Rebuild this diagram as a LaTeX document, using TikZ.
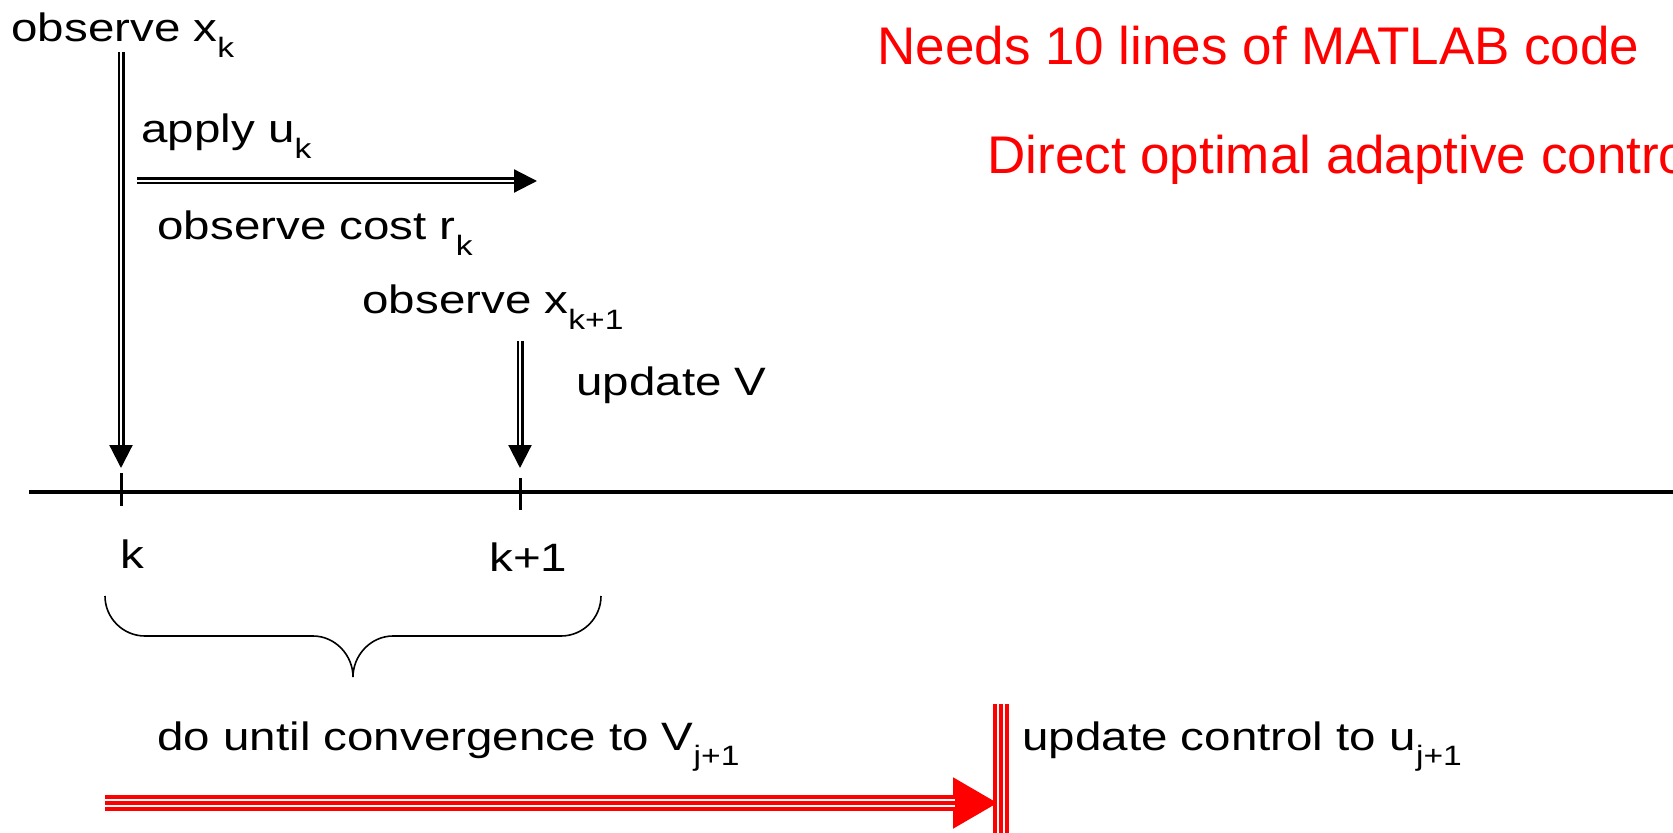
\documentclass[tikz,border=0pt]{standalone}
\usepackage{fontspec}
\setmainfont{Liberation Sans}[FakeStretch=1.2]
\newfontfamily\plainsans{Liberation Sans}
\usetikzlibrary{arrows.meta,calc}
\definecolor{alert}{RGB}{255,0,0}
\newcommand\lowsub[1]{\raisebox{-0.4em}{\fontsize{14}{14}\selectfont #1}}

\begin{document}
\begin{tikzpicture}[
  x=0.5pt, y=-0.5pt,
  txt/.style={anchor=base west,inner sep=0pt,font=\fontsize{19.8}{23}\selectfont},
  note/.style={anchor=base west,inner sep=0pt,text=alert,font=\plainsans\fontsize{26.5}{32}\selectfont},
  axisline/.style={line width=1.6pt},
  tickmark/.style={line width=1.5pt},
  dbl/.style={double,line width=1.1pt,double distance=1.3pt,-{Triangle[length=11.5pt,width=11.5pt]}},
  redbase/.style={alert,line width=7.75pt},
  redgap/.style={draw=white,double=alert,line width=1.25pt,double distance=1.75pt},
  brace/.style={line width=0.8pt},
]
\useasboundingbox (0,0) rectangle (1673,833);
% time axis and ticks
\coordinate (axl) at (29,492);
\coordinate (axr) at (1673,492);
\coordinate (k) at (121,492);
\coordinate (k1) at (520,492);
\draw[axisline] (axl) -- (axr);
\draw[tickmark] ($(k)+(0,-19)$) -- ($(k)+(0,14)$);
\draw[tickmark] ($(k1)+(0,-14)$) -- ($(k1)+(0,18)$);
\node[txt] (klab) at (120,568) {k};
\node[txt] (k1lab) at (489,571) {k+1};
% one step k -> k+1
\node[txt] (obsx) at (11,42) {observe x\lowsub{k}};
\node[txt] (apply) at (141,143) {apply u\lowsub{k}};
\node[txt] (cost) at (157,240) {observe cost r\lowsub{k}};
\node[txt] (obsx1) at (362,314) {observe x\lowsub{k+1}};
\node[txt] (updv) at (576,396) {update V};
\coordinate (xk) at (121,52);
\coordinate (xkend) at (121,468);
\coordinate (us) at (137,181);
\coordinate (ue) at (537,181);
\coordinate (xk1) at (520,341);
\coordinate (xk1end) at (520,468);
\draw[dbl] (xk) -- (xkend);
\draw[dbl] (us) -- (ue);
\draw[dbl] (xk1) -- (xk1end);
% brace under the step
\draw[brace] (105,596) .. controls (105,618) and (123,636) .. (145,636) -- (313,636)
  .. controls (335,636) and (353,655) .. (353,677)
  .. controls (353,655) and (371,636) .. (393,636) -- (561,636)
  .. controls (583,636) and (601,618) .. (601,596);
% outer loop
\node[txt] (until) at (157,750) {do until convergence to V\lowsub{j+1}};
\node[txt] (updctl) at (1022,750) {update control to u\lowsub{j+1}};
\coordinate (cs) at (1001,704);
\coordinate (ce) at (1001,833);
\draw[redbase] (cs) -- (ce);
\draw[redgap] (cs) -- (ce);
\coordinate (ls) at (105,803);
\coordinate (le) at (998,803);
\coordinate (lh) at (955,803);
\draw[redbase,-{Triangle[length=22.5pt,width=24pt]}] (ls) -- (le);
\draw[redgap] (ls) -- (lh);
% notes
\node[note] (matlab) at (877,65) {Needs 10 lines of MATLAB code};
\node[note] (direct) at (987,174) {Direct optimal adaptive control};
\end{tikzpicture}
\end{document}
